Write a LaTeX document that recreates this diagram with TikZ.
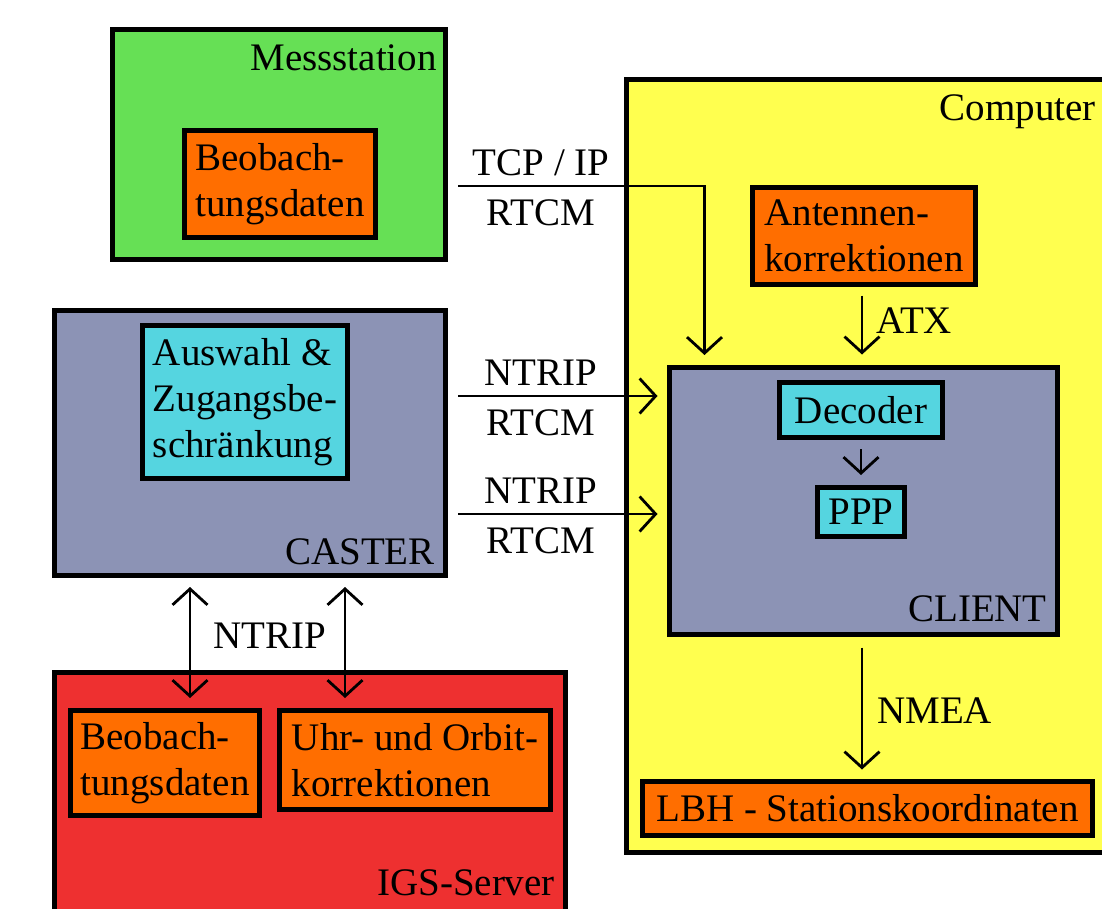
\documentclass[tikz,border=0pt]{standalone}
\usepackage{fontspec}
\setmainfont{Liberation Serif}
\usepackage{xcolor}
\usetikzlibrary{arrows.meta}

\definecolor{stationgreen}{HTML}{66E055}
\definecolor{dataorange}{HTML}{FF6E00}
\definecolor{servergrey}{HTML}{8C93B5}
\definecolor{modulecyan}{HTML}{55D5E0}
\definecolor{igsred}{HTML}{EE3030}
\definecolor{pcyellow}{HTML}{FFFF4F}

\tikzset{
	every node/.style={font=\fontsize{39}{46}\selectfont},
	frame/.style={draw, line width=5pt, inner sep=0pt},
	box/.style={draw, line width=5pt, inner sep=0pt, align=left},
	tag/.style={inner sep=0pt},
	flow/.style={line width=2.8pt, -{Straight Barb[length=16pt,width=35pt]}},
	dflow/.style={line width=2.8pt, {Straight Barb[length=16pt,width=35pt]}-{Straight Barb[length=16pt,width=35pt]}}
}

\begin{document}
\begin{tikzpicture}[x=1pt,y=-1pt]
			\useasboundingbox (0,0) rectangle (1102,908);
			% Messstation
			\node[frame, fill=stationgreen, minimum width=333pt, minimum height=230pt] (station) at (279,144.5) {};
			\node[tag, anchor=base east] (stationtag) at (437,70) {Messstation};
			\node[box, fill=dataorange, minimum width=191pt, minimum height=107pt] (stationdata) at (280,184) {Beobach-\\tungsdaten};
			% Caster
			\node[frame, fill=servergrey, minimum width=391pt, minimum height=265pt] (caster) at (250,443) {};
			\node[tag, anchor=base east] (castertag) at (435,564) {CASTER};
			\node[box, fill=modulecyan, minimum width=205pt, minimum height=153pt] (selection) at (245,402) {Auswahl \&\\Zugangsbe-\\schränkung};
			% IGS-Server
			\node[frame, fill=igsred, minimum width=511pt, minimum height=255pt] (igs) at (310,800) {};
			\node[tag, anchor=base east] (igstag) at (555,895) {IGS-Server};
			\node[box, fill=dataorange, minimum width=189pt, minimum height=105pt] (igsdata) at (165,763) {Beobach-\\tungsdaten};
			\node[box, fill=dataorange, minimum width=271pt, minimum height=99pt] (clockorbit) at (415,760) {Uhr- und Orbit-\\korrektionen};
			% Computer
			\node[frame, fill=pcyellow, minimum width=496pt, minimum height=773pt] (computer) at (874,466) {};
			\node[tag, anchor=base east] (computertag) at (1096,120) {Computer};
			\node[box, fill=dataorange, minimum width=223pt, minimum height=97pt] (antenna) at (864,236) {Antennen-\\korrektionen};
			\node[frame, fill=servergrey, minimum width=388pt, minimum height=267pt] (client) at (863.5,501) {};
			\node[tag, anchor=base east] (clienttag) at (1047,621) {CLIENT};
			\node[box, fill=modulecyan, minimum width=163pt, minimum height=55pt] (decoder) at (861,410) {Decoder};
			\node[box, fill=modulecyan, minimum width=87pt, minimum height=49pt] (ppp) at (861,512) {PPP};
			\node[box, fill=dataorange, minimum width=450pt, minimum height=54pt] (coords) at (867.5,808.5) {LBH - Stationskoordinaten};
			% Verbindungen
			\coordinate (tcpin) at (458,186);
			\coordinate (ntripa) at (458,396);
			\coordinate (ntripb) at (458,514);
			\draw[flow, shorten >=10pt] (tcpin) -| ([xshift=37.5pt]client.north west);
			\draw[flow, shorten >=9.5pt] (ntripa) -- (ntripa -| client.west);
			\draw[flow, shorten >=9.5pt] (ntripb) -- (ntripb -| client.west);
			\draw[flow, shorten <=8.5pt, shorten >=10.5pt] ([xshift=-2pt]antenna.south) -- ([xshift=-2pt]antenna.south |- client.north);
			\draw[flow, shorten <=9pt, shorten >=10pt] (decoder.south) -- (ppp.north);
			\draw[flow, shorten <=10.5pt, shorten >=9.5pt] ([xshift=-1.5pt]client.south) -- ([xshift=-1.5pt]client.south |- coords.north);
			\draw[dflow, shorten <=9pt, shorten >=10pt] ([xshift=138pt]caster.south west) -- ([xshift=25pt]igsdata.north);
			\draw[dflow, shorten <=9pt, shorten >=10pt] ([xshift=293pt]caster.south west) -- ([xshift=-70pt]clockorbit.north);
			% Beschriftungen
			\node[tag, anchor=base] (tcptag) at (541,175) {TCP / IP};
			\node[tag, anchor=base] (rtcmtaga) at (541,225) {RTCM};
			\node[tag, anchor=base] (ntriptaga) at (541,385) {NTRIP};
			\node[tag, anchor=base] (rtcmtagb) at (541,435) {RTCM};
			\node[tag, anchor=base] (ntriptagb) at (541,503) {NTRIP};
			\node[tag, anchor=base] (rtcmtagc) at (541,553) {RTCM};
			\node[tag, anchor=base] (ntriptagc) at (270,648) {NTRIP};
			\node[tag, anchor=base west] (atxtag) at (876,333) {ATX};
			\node[tag, anchor=base west] (nmeatag) at (877,723) {NMEA};
		\end{tikzpicture}
\end{document}
